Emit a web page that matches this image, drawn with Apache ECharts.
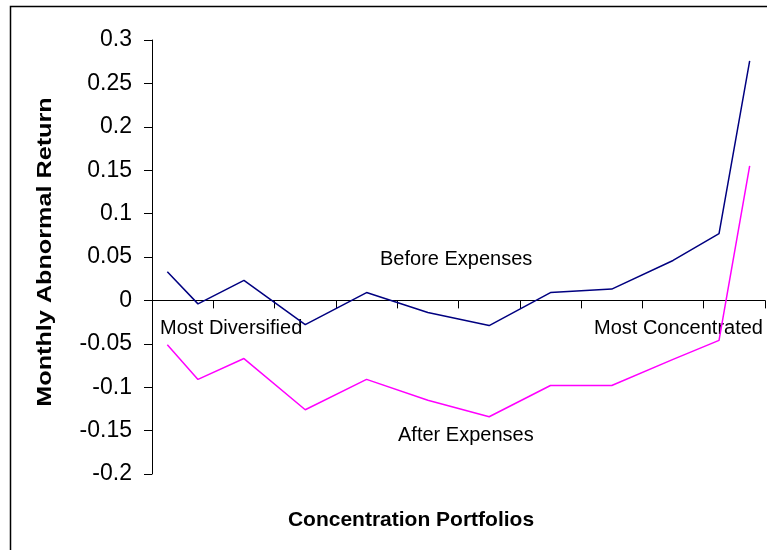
<!DOCTYPE html>
<html>
<head>
<meta charset="utf-8">
<script src="https://cdn.jsdelivr.net/npm/echarts@6/dist/echarts.min.js"></script>
<style>
html,body{margin:0;padding:0;background:#fff;}
#chart{width:767px;height:550px;}
</style>
</head>
<body>
<div id="chart"></div>
<script>
// Portfolio positions along the concentration axis (top/bottom deciles split in halves)
var portfolioPos = [0.25, 0.75, 1.5, 2.5, 3.5, 4.5, 5.5, 6.5, 7.5, 8.5, 9.25, 9.75];
var beforeExpenses = [0.033, -0.004, 0.023, -0.028, 0.009, -0.014, -0.029, 0.009, 0.013, 0.046, 0.077, 0.276];
var afterExpenses = [-0.051, -0.091, -0.067, -0.126, -0.091, -0.115, -0.134, -0.098, -0.098, -0.068, -0.046, 0.155];
var yTicks = [-0.2, -0.15, -0.1, -0.05, 0, 0.05, 0.1, 0.15, 0.2, 0.25, 0.3];

function pairs(xs, ys){ return xs.map(function(x,i){ return [x, ys[i]]; }); }

var chart = echarts.init(document.getElementById('chart'), null, {renderer:'canvas'});
var font = 'Liberation Sans, Arial, sans-serif';
chart.setOption({
  animation: false,
  backgroundColor: '#fff',
  grid: {left: 152, right: 2, top: 40, bottom: 76, containLabel: false, outerBoundsMode: 'none'},
  xAxis: {
    type: 'value', min: 0, max: 10, interval: 1,
    axisLine: {onZero: true, lineStyle: {color: '#000', width: 1}},
    axisTick: {show: true, length: 8, lineStyle: {color: '#000'}},
    axisLabel: {show: false},
    splitLine: {show: false}
  },
  yAxis: {
    type: 'value', min: yTicks[0], max: yTicks[yTicks.length-1], interval: 0.05,
    axisLine: {show: true, lineStyle: {color: '#000', width: 1}},
    axisTick: {show: true, length: 8, lineStyle: {color: '#000'}},
    axisLabel: {fontFamily: font, fontSize: 23, color: '#000', margin: 20,
      formatter: function(v){ return String(Math.round(v*100)/100); }},
    splitLine: {show: false}
  },
  graphic: [
    {type: 'rect', shape: {x: 10.5, y: 6.5, width: 780, height: 560}, style: {fill: 'none', stroke: '#000', lineWidth: 1.5}, silent: true},
    {type: 'text', x: 45, y: 252, rotation: Math.PI/2, scaleX: 1.2, style: {text: 'Monthly Abnormal Return', font: 'bold 21px ' + font, fill: '#000', align: 'center', verticalAlign: 'middle'}},
    {type: 'text', x: 411, y: 520, style: {text: 'Concentration Portfolios', font: 'bold 21px ' + font, fill: '#000', align: 'center', verticalAlign: 'middle'}},
    {type: 'text', left: 380, top: 249, style: {text: 'Before Expenses', font: '20px ' + font, fill: '#000'}},
    {type: 'text', left: 398, top: 425, style: {text: 'After Expenses', font: '20px ' + font, fill: '#000'}},
    {type: 'text', left: 160, top: 318, style: {text: 'Most Diversified', font: '20px ' + font, fill: '#000'}},
    {type: 'text', left: 594, top: 318, style: {text: 'Most Concentrated', font: '20px ' + font, fill: '#000'}}
  ],
  series: [
    {type: 'line', name: 'Before Expenses', data: pairs(portfolioPos, beforeExpenses), symbol: 'none',
      lineStyle: {color: '#000080', width: 1.5}, z: 3},
    {type: 'line', name: 'After Expenses', data: pairs(portfolioPos, afterExpenses), symbol: 'none',
      lineStyle: {color: '#FF00FF', width: 1.5}, z: 3}
  ]
});
</script>
</body>
</html>
